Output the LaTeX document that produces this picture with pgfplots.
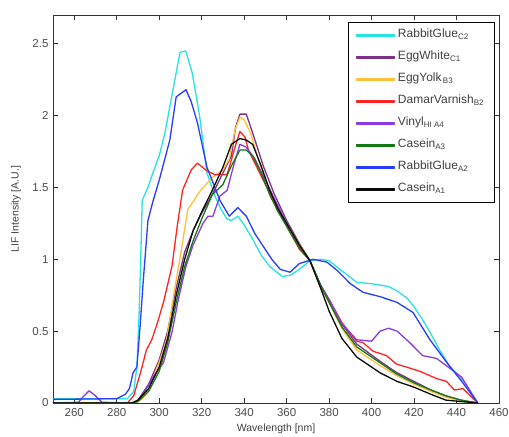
\documentclass[border=0pt]{standalone}
\usepackage{pgfplots}
\pgfplotsset{compat=1.18}
\usepackage{fontspec}
\setmainfont{Liberation Sans}
\definecolor{cC2}{RGB}{40,225,225}
\definecolor{cC1}{RGB}{125,50,135}
\definecolor{cB3}{RGB}{255,190,60}
\definecolor{cB2}{RGB}{255,35,35}
\definecolor{cA4}{RGB}{140,60,220}
\definecolor{cA3}{RGB}{20,120,20}
\definecolor{cA2}{RGB}{40,60,255}
\definecolor{cA1}{RGB}{10,10,10}
\pgfplotsset{legend image code/.code={\fill[#1] (0pt,-0.5pt) rectangle (38pt,0.5pt);}}
\begin{document}
\begin{tikzpicture}
\begin{axis}[
  scale only axis,
  width=446pt, height=388pt,
  xmin=250, xmax=460, ymin=0, ymax=2.7,
  xtick={260,280,...,460},
  ytick={0,0.5,1,1.5,2,2.5},
  yticklabels={0,0.5,1,1.5,2,2.5},
  /pgf/number format/assume math mode=true,
  tick align=inside,
  major tick length=5pt,
  tick style={black!80, line width=0.5pt},
  axis line style={black!80, line width=0.8pt},
  tick label style={font=\fontsize{11.5}{13}\selectfont, black!70},
  xticklabel style={yshift=-2pt},
  yticklabel style={xshift=-1pt},
  xlabel={Wavelength [nm]},
  ylabel={LIF Intensity [A.U.]},
  label style={font=\fontsize{10.5}{12}\selectfont, black!75},
  x label style={at={(rel axis cs:0.5,0)}, anchor=center, yshift=-26pt},
  y label style={at={(rel axis cs:0,0.5)}, anchor=center, rotate=0, yshift=37pt},
  every axis plot/.append style={line width=1.3pt, line join=round},
  legend cell align=left,
  legend style={at={(rel axis cs:0.991,0.982)}, anchor=north east,
    draw=black, line width=0.8pt, fill=white,
    font=\fontsize{12}{13}\selectfont, text=black!75,
    inner xsep=8pt, inner ysep=2pt,
    nodes={inner ysep=4.5pt, inner xsep=2.5pt, text height=9pt, text depth=4pt}},
]
% RabbitGlue C2
\addplot[cC2] coordinates {(250,0.03)(285,0.03)(288,0.08)(289.5,0.25)(290.5,0.6)(291.3,1.0)(292,1.41)(294.7,1.5)(297,1.6)(300,1.72)(302.7,1.88)(306.5,2.18)(309.8,2.44)(312.5,2.45)(315.5,2.30)(319,2.0)(322.5,1.6)(326,1.45)(329,1.35)(332,1.28)(334,1.27)(337,1.30)(340,1.24)(344,1.14)(348,1.03)(352,0.95)(358,0.88)(362,0.89)(366,0.93)(371,0.99)(376,1.0)(380,0.99)(386,0.92)(393,0.84)(400,0.83)(408,0.81)(412,0.78)(416.7,0.73)(420,0.67)(424,0.58)(428,0.48)(432,0.37)(437,0.25)(443,0.16)(450,0)};
\addlegendentry{RabbitGlue\textsubscript{C2}}
% EggWhite C1
\addplot[cC1] coordinates {(250,0)(288,0)(290,0.02)(295,0.13)(300,0.3)(304,0.5)(308,0.8)(312,1.05)(316,1.2)(320,1.32)(325,1.45)(330,1.6)(334,1.72)(336,1.92)(338,2.01)(341,2.01)(344,1.88)(349,1.65)(354,1.46)(360,1.27)(366,1.11)(371,0.99)(376,0.82)(380,0.72)(386,0.55)(393,0.41)(404,0.29)(412,0.21)(420,0.15)(428,0.09)(435,0.05)(442,0.02)(450,0)};
\addlegendentry{EggWhite\textsubscript{C1}}
% EggYolk B3
\addplot[cB3] coordinates {(250,0)(289,0)(292,0.03)(294,0.07)(297,0.17)(300.4,0.30)(303.5,0.44)(306.5,0.72)(310.5,1.07)(313.5,1.35)(316,1.40)(319,1.47)(325,1.57)(330,1.62)(333,1.70)(335.7,1.90)(338,1.99)(340,1.97)(343,1.88)(347,1.68)(352,1.48)(358,1.30)(364,1.15)(371,0.99)(376,0.80)(380,0.70)(386,0.52)(393,0.37)(404,0.26)(412,0.19)(420,0.13)(428,0.08)(435,0.04)(442,0.015)(450,0)};
\addlegendentry{EggYolk\textsubscript{\,B3}}
% DamarVarnish B2
\addplot[cB2] coordinates {(250,0)(285,0)(288,0.05)(291,0.2)(294,0.37)(296.5,0.44)(299,0.55)(302,0.70)(306,0.95)(308.5,1.23)(311,1.48)(315,1.62)(318,1.67)(322,1.62)(326,1.59)(332,1.59)(335.7,1.78)(338,1.89)(340.4,1.85)(342,1.76)(349,1.55)(355,1.38)(360,1.23)(366,1.07)(371,0.99)(376,0.81)(380,0.72)(386,0.56)(393,0.43)(396,0.42)(400.7,0.36)(407,0.33)(411.8,0.27)(416.5,0.25)(422.8,0.22)(430.6,0.17)(435.3,0.15)(439,0.09)(443,0.10)(450,0)};
\addlegendentry{DamarVarnish\textsubscript{B2}}
% Vinyl HI A4
\addplot[cA4] coordinates {(250,0)(262,0.005)(264,0.04)(267,0.085)(270,0.05)(273,0.005)(288,0)(291,0.03)(294,0.1)(298,0.2)(302,0.28)(306,0.49)(309,0.72)(312.6,0.95)(316,1.1)(320.6,1.25)(323,1.3)(325.3,1.30)(328.6,1.44)(332,1.48)(335,1.65)(338,1.80)(341,1.78)(345,1.70)(349,1.58)(354,1.43)(360,1.25)(366,1.09)(371,0.99)(376,0.82)(380,0.72)(386,0.55)(393,0.44)(400,0.43)(404,0.50)(408,0.52)(412,0.50)(418,0.42)(424,0.33)(430.6,0.31)(437,0.24)(442.4,0.18)(450,0)};
\addlegendentry{Vinyl\textsubscript{HI\ A4}}
% Casein A3
\addplot[cA3] coordinates {(250,0)(288,0)(290,0.01)(295,0.08)(300,0.22)(304,0.42)(308,0.7)(312,0.95)(316,1.13)(320,1.28)(325,1.45)(330,1.52)(334,1.65)(338,1.76)(341,1.76)(344,1.72)(348,1.6)(352,1.45)(356,1.33)(360,1.23)(366,1.08)(371,0.99)(376,0.82)(380,0.70)(386,0.53)(393,0.39)(404,0.28)(412,0.2)(420,0.14)(428,0.09)(435,0.05)(442,0.02)(450,0)};
\addlegendentry{Casein\textsubscript{A3}}
% RabbitGlue A2
\addplot[cA2] coordinates {(250,0.025)(280,0.03)(284,0.06)(286,0.1)(287.7,0.21)(289.5,0.25)(291,0.53)(292.4,0.83)(294.7,1.27)(297,1.40)(300,1.55)(305,1.83)(308,2.13)(312.6,2.18)(315,2.10)(318,1.95)(322.5,1.64)(328.6,1.41)(333,1.30)(337,1.36)(341,1.30)(345,1.18)(349,1.09)(353,1.0)(357,0.93)(361.6,0.91)(366,0.97)(372.4,1.0)(379,0.98)(384,0.92)(390,0.83)(396,0.77)(404,0.74)(412,0.70)(419.5,0.63)(427.5,0.44)(435.5,0.28)(443,0.14)(450,0)};
\addlegendentry{RabbitGlue\textsubscript{A2}}
% Casein A1
\addplot[cA1] coordinates {(250,0)(287,0)(290,0.02)(295,0.1)(300,0.25)(304,0.45)(308,0.75)(312,1.0)(316,1.2)(320,1.33)(325,1.48)(330,1.64)(334,1.80)(338,1.84)(341,1.83)(344,1.80)(348,1.65)(352,1.48)(356,1.35)(360,1.25)(366,1.1)(371,0.99)(376,0.80)(380,0.64)(386,0.45)(393,0.32)(400,0.25)(404,0.21)(412,0.15)(420,0.11)(428,0.06)(435,0.02)(442,0.01)(450,0)};
\addlegendentry{Casein\textsubscript{A1}}
\end{axis}
\pgfresetboundingbox
\path[use as bounding box] ([xshift=-53pt,yshift=-34pt]current axis.south west) rectangle ([xshift=10pt,yshift=15pt]current axis.north east);
\end{tikzpicture}
\end{document}
